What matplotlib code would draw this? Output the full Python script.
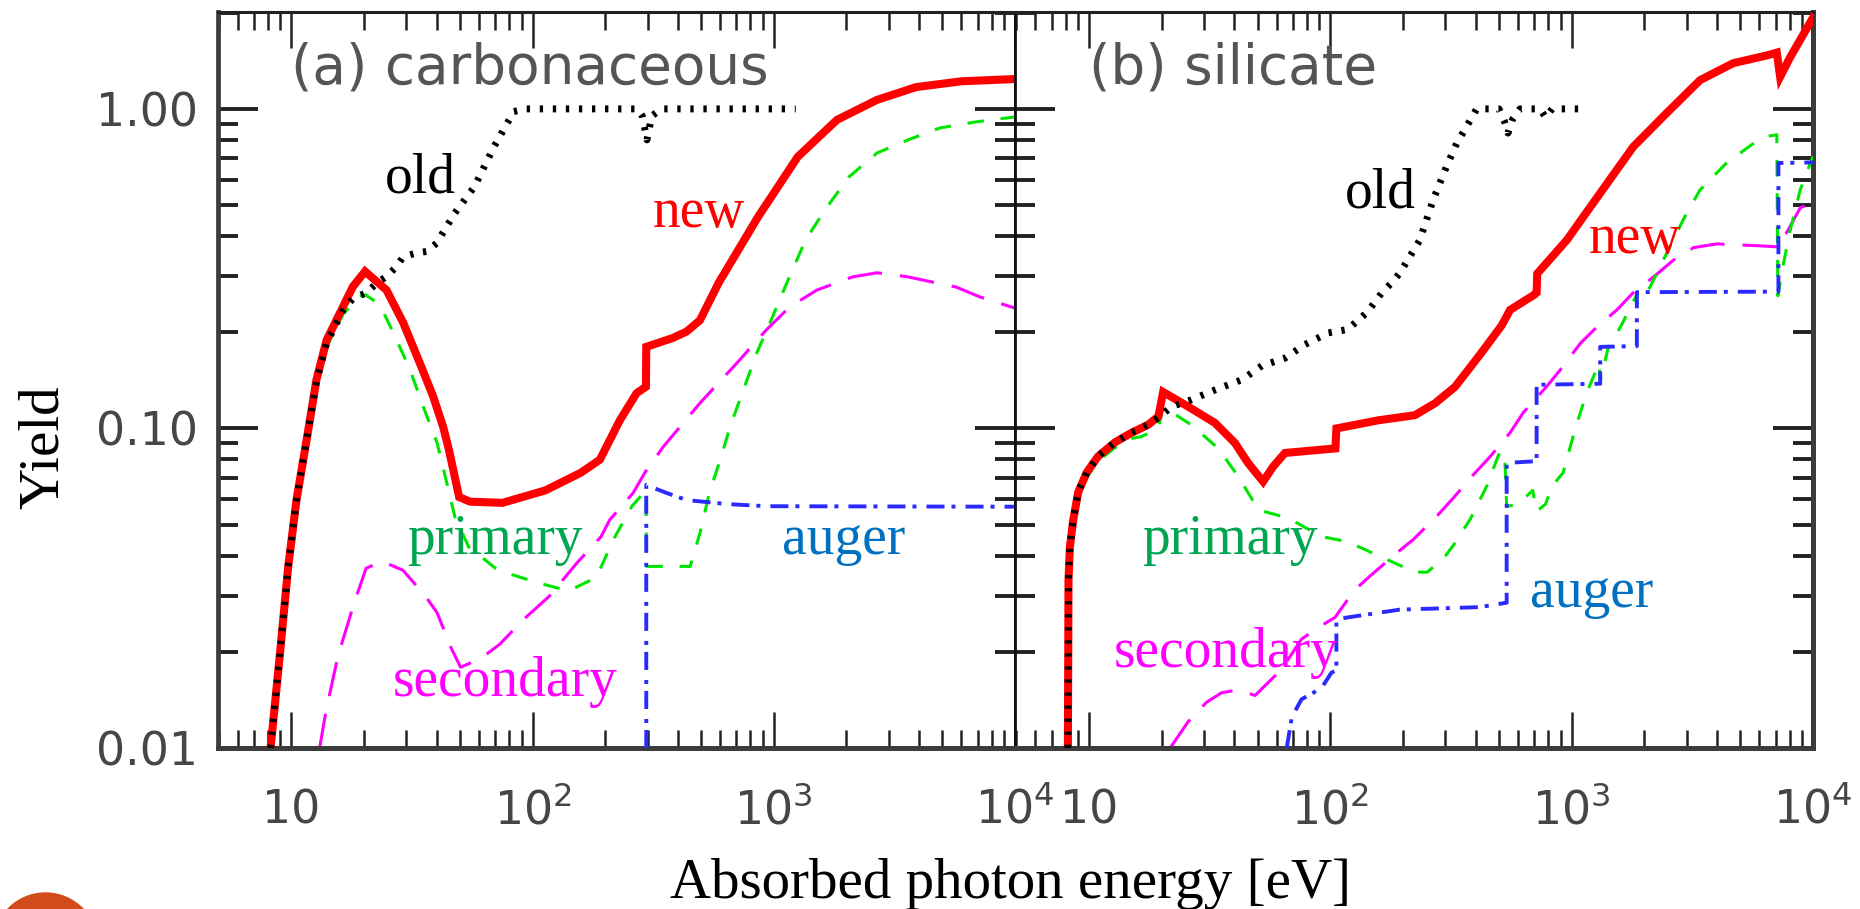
import matplotlib
matplotlib.use("Agg")
import matplotlib.pyplot as plt
from matplotlib.ticker import FixedLocator, NullFormatter, FixedFormatter
from matplotlib.patches import Ellipse

plt.rcParams["lines.scale_dashes"] = False
plt.rcParams["mathtext.default"] = "regular"

# ---------------- (a) carbonaceous grains ----------------
C_NEW_E = [8.2, 9.0, 9.7, 10.5, 11.7, 12.7, 14.0, 16.4, 18.0, 20.2, 24.8, 29.1, 34.1,
           38.7, 42.6, 45.0, 49.6, 55.0, 75.0, 113, 158, 190, 230, 270, 295, 296, 316,
           382, 435, 494, 590, 860, 1257, 1828, 2678, 3890, 6000, 10000]
C_NEW_Y = [0.010, 0.0203, 0.0369, 0.0597, 0.097, 0.142, 0.189, 0.241, 0.278, 0.31, 0.271,
           0.214, 0.160, 0.126, 0.101, 0.0857, 0.061, 0.059, 0.0585, 0.064, 0.0726, 0.0798,
           0.106, 0.129, 0.135, 0.180, 0.183, 0.192, 0.201, 0.218, 0.285, 0.459, 0.708,
           0.924, 1.067, 1.17, 1.22, 1.24]

C_OLD_E = [8.2, 9.0, 9.7, 10.5, 11.7, 12.7, 14.0, 16.4, 18.0, 20.5, 22.6, 24.8, 27.3,
           29.1, 33.0, 36.4, 40.0, 47.5, 57.4, 69.3, 83.6, 94, 272, 285, 298, 312, 342, 1233]
C_OLD_Y = [0.010, 0.0203, 0.0369, 0.0597, 0.097, 0.140, 0.185, 0.235, 0.255, 0.266, 0.285,
           0.299, 0.321, 0.345, 0.354, 0.358, 0.38, 0.471, 0.571, 0.763, 0.981, 1.0, 1.0,
           0.95, 0.80, 0.95, 1.0, 1.0]

C_PRI_E = [8.2, 9.0, 9.7, 10.5, 11.7, 12.7, 14.0, 16.4, 19.2, 20.3, 22.2, 24.0, 26.5, 31.0,
           35.2, 40.2, 44.1, 47.6, 54.3, 71.9, 105, 141, 184, 216, 258, 295, 297, 340, 450,
           494, 544, 600, 658, 748, 849, 964, 1145, 1355, 1630, 2051, 2680, 3606, 4890,
           6855, 10000]
C_PRI_Y = [0.010, 0.020, 0.036, 0.058, 0.094, 0.135, 0.180, 0.228, 0.259, 0.262, 0.250,
           0.232, 0.199, 0.153, 0.117, 0.090, 0.0675, 0.053, 0.0426, 0.036, 0.0329, 0.031,
           0.0342, 0.0448, 0.0571, 0.064, 0.037, 0.037, 0.037, 0.047, 0.064, 0.0798, 0.101,
           0.132, 0.172, 0.214, 0.291, 0.389, 0.483, 0.613, 0.728, 0.80, 0.872, 0.91, 0.944]

C_SEC_E = [13.1, 13.9, 15.6, 18.2, 20.4, 23.7, 29.0, 35.8, 40.2, 45.9, 50.3, 60.6, 73, 92,
           117, 153, 192, 209, 261, 292, 348, 494, 702, 929, 1163, 1508, 2120, 2680, 3606,
           5700, 7150, 10000]
C_SEC_Y = [0.010, 0.013, 0.0194, 0.0284, 0.0365, 0.0384, 0.036, 0.030, 0.0265, 0.0206,
           0.0179, 0.019, 0.0211, 0.0253, 0.0298, 0.038, 0.0458, 0.0518, 0.0628, 0.0727,
           0.0876, 0.120, 0.160, 0.203, 0.24, 0.271, 0.298, 0.307, 0.298, 0.277, 0.258, 0.238]

C_AUG_E = [296, 296, 320, 360, 435, 638, 935, 10000]
C_AUG_Y = [0.010, 0.0666, 0.065, 0.0628, 0.0597, 0.058, 0.0571, 0.0569]

# ---------------- (b) silicate grains ----------------
S_NEW_E = [8.18, 8.21, 8.23, 8.34, 8.61, 9.03, 9.78, 10.9, 12.8, 15.0, 17.6, 19.4, 20.3,
           25.8, 33.3, 40.3, 45.6, 52.7, 58, 64.9, 105, 106, 157.8, 224, 272, 329, 424,
           513, 556, 700, 716, 720, 956, 1313, 1800, 2475, 3404, 4670, 6440, 7080, 7310,
           8040, 10000]
S_NEW_Y = [0.010, 0.020, 0.0336, 0.0426, 0.0517, 0.0632, 0.0727, 0.0817, 0.0904, 0.0969,
           0.1027, 0.109, 0.130, 0.117, 0.104, 0.090, 0.078, 0.0682, 0.076, 0.0838, 0.0866,
           0.100, 0.106, 0.110, 0.120, 0.135, 0.173, 0.21, 0.235, 0.262, 0.266, 0.305,
           0.389, 0.545, 0.761, 0.97, 1.23, 1.39, 1.47, 1.50, 1.26, 1.45, 1.93]

S_OLD_E = [8.18, 8.21, 8.23, 8.34, 8.61, 9.03, 9.78, 10.9, 12.8, 15.0, 17.6, 19.4, 22,
           26.6, 33.3, 43, 52, 64.9, 78.5, 97.8, 118, 143, 163, 179, 194, 235, 267, 303,
           334, 367, 404, 500, 525, 545, 570, 611, 740, 780, 830, 1138]
S_OLD_Y = [0.010, 0.020, 0.0336, 0.0426, 0.0517, 0.0632, 0.0727, 0.0817, 0.0904, 0.0969,
           0.1027, 0.108, 0.117, 0.123, 0.132, 0.142, 0.157, 0.166, 0.183, 0.199, 0.204,
           0.232, 0.265, 0.285, 0.306, 0.389, 0.52, 0.66, 0.78, 0.88, 1.0, 1.0, 0.92, 0.84,
           0.93, 1.0, 1.0, 0.94, 1.0, 1.0]

S_PRI_E = [8.18, 8.21, 8.23, 8.34, 8.61, 9.03, 9.78, 10.9, 12.8, 15.0, 16.5, 19.4, 20.3,
           26.6, 34.3, 41.6, 50.4, 67, 92, 118, 163, 224, 252, 293, 323, 380, 445, 505, 528,
           538, 600, 690, 716, 780, 830, 922, 1032, 1153, 1300, 1313, 1420, 1600, 1850,
           1863, 2113, 2400, 2900, 3404, 4381, 5810, 6440, 7080, 7150, 7500, 8000, 8850,
           10000]
S_PRI_Y = [0.010, 0.019, 0.032, 0.041, 0.050, 0.061, 0.070, 0.079, 0.087, 0.093, 0.0943,
           0.100, 0.117, 0.1025, 0.0867, 0.0707, 0.0556, 0.0524, 0.0459, 0.0442, 0.0396,
           0.0355, 0.0355, 0.039, 0.043, 0.052, 0.066, 0.085, 0.083, 0.057, 0.058, 0.064,
           0.055, 0.058, 0.066, 0.0727, 0.099, 0.129, 0.16, 0.14, 0.18, 0.209, 0.26, 0.245,
           0.277, 0.337, 0.45, 0.558, 0.677, 0.79, 0.82, 0.83, 0.26, 0.32, 0.41, 0.558, 0.71]

S_SEC_E = [21.7, 25.8, 30.7, 35.5, 41.6, 48.8, 62.7, 76, 88.8, 104.5, 126, 146, 188.6, 220,
           276, 323, 390, 460, 556, 630, 786, 894, 1089, 1274, 1540, 1800, 2185, 2650,
           3200, 3990, 4990, 5940, 7150, 7250, 7780, 8850, 10000]
S_SEC_Y = [0.010, 0.0121, 0.0139, 0.0149, 0.0152, 0.0146, 0.0176, 0.0219, 0.0238, 0.0256,
           0.0312, 0.0345, 0.0408, 0.0448, 0.0531, 0.0605, 0.0714, 0.0817, 0.097, 0.112,
           0.135, 0.152, 0.185, 0.208, 0.235, 0.266, 0.298, 0.337, 0.368, 0.378, 0.375,
           0.373, 0.37, 0.40, 0.41, 0.49, 0.51]

S_AUG_E = [66, 69.3, 76, 92, 101, 106, 106, 117, 194, 418, 538, 538, 716, 716, 1313, 1313,
           1863, 1863, 7190, 7190, 10000]
S_AUG_Y = [0.010, 0.0125, 0.0142, 0.0154, 0.0172, 0.0175, 0.0252, 0.0256, 0.0271, 0.0276,
           0.0285, 0.078, 0.079, 0.137, 0.138, 0.180, 0.181, 0.267, 0.268, 0.677, 0.68]

X_MAJOR = [10, 100, 1000, 10000]
X_LABELS = ["10", "$10^{2}$", "$10^{3}$", "$10^{4}$"]
Y_MAJOR = [0.01, 0.1, 1.0]
Y_LABELS = ["0.01", "0.10", "1.00"]

PANELS = [
    dict(title="(a) carbonaceous",
         new=(C_NEW_E, C_NEW_Y), old=(C_OLD_E, C_OLD_Y), pri=(C_PRI_E, C_PRI_Y),
         sec=(C_SEC_E, C_SEC_Y), aug=(C_AUG_E, C_AUG_Y),
         labels=[("old", 24.4, 0.546, "black"), ("new", 316, 0.427, "#ff0000"),
                 ("primary", 30.2, 0.0405, "#00a651"), ("secondary", 26.4, 0.01455, "#ff00ff"),
                 ("auger", 1081, 0.0405, "#0070c0")]),
    dict(title="(b) silicate",
         new=(S_NEW_E, S_NEW_Y), old=(S_OLD_E, S_OLD_Y), pri=(S_PRI_E, S_PRI_Y),
         sec=(S_SEC_E, S_SEC_Y), aug=(S_AUG_E, S_AUG_Y),
         labels=[("old", 115, 0.49, "black"), ("new", 1180, 0.354, "#ff0000"),
                 ("primary", 16.6, 0.0405, "#00a651"), ("secondary", 12.7, 0.01793, "#ff00ff"),
                 ("auger", 672, 0.0276, "#0070c0")]),
]

W, H = 1860, 909
fig = plt.figure(figsize=(W / 100, H / 100), dpi=100)
bottom = 1 - 748 / H
height = (748 - 12) / H
ax_a = fig.add_axes([217.5 / W, bottom, (1015 - 217.5) / W, height])
ax_b = fig.add_axes([1015 / W, bottom, (1813 - 1015) / W, height])

x_minor = [m * d for d in (1, 10, 100, 1000) for m in range(2, 10) if m * d > 4.9]
y_minor = [m * d for d in (0.01, 0.1) for m in range(2, 10)] + [2.0]

SERIF = "Liberation Serif"
AXIS_GRAY = "#3c3c3c"

for i, (ax, p) in enumerate(zip([ax_a, ax_b], PANELS)):
    ax.set_xscale("log")
    ax.set_yscale("log")
    ax.set_xlim(4.94, 1e4)
    ax.set_ylim(0.01, 2.01)

    ax.plot(*p["sec"], color="#ff00ff", lw=2.2, dashes=(25, 13), zorder=2)
    ax.plot(*p["pri"], color="#00e600", lw=2.2, dashes=(12, 12), zorder=3)
    ax.plot(*p["aug"], color="#2a2aff", lw=2.8, dashes=(13, 5, 2.9, 7.2), zorder=4)
    ax.plot(*p["new"], color="#ff0000", lw=5.8, zorder=5, solid_joinstyle="miter")
    ax.plot(*p["old"], color="black", lw=5.0, dashes=(2.4, 7.0), zorder=6,
            dash_capstyle="butt")

    ax.text(10.0, 1.2, p["title"], fontsize=39.5, color="#555555",
            family="DejaVu Sans", ha="left", va="baseline")
    for txt, xe, ye, col in p["labels"]:
        ax.text(xe, ye, txt, fontsize=40, color=col, family=SERIF,
                ha="left", va="baseline", zorder=7)

    ax.xaxis.set_major_locator(FixedLocator(X_MAJOR))
    ax.xaxis.set_minor_locator(FixedLocator(x_minor))
    ax.xaxis.set_major_formatter(FixedFormatter(X_LABELS))
    ax.xaxis.set_minor_formatter(NullFormatter())
    ax.yaxis.set_major_locator(FixedLocator(Y_MAJOR))
    ax.yaxis.set_minor_locator(FixedLocator(y_minor))
    ax.yaxis.set_minor_formatter(NullFormatter())
    if i == 0:
        ax.yaxis.set_major_formatter(FixedFormatter(Y_LABELS))
    else:
        ax.yaxis.set_major_formatter(NullFormatter())

    ax.tick_params(which="both", direction="in", top=True, right=True,
                   colors="#222222", labelcolor="#464646")
    ax.tick_params(axis="x", which="major", length=26, width=1.8, labelsize=33, pad=54)
    ax.tick_params(axis="x", which="minor", length=13, width=1.8)
    ax.tick_params(axis="y", which="major", length=29, width=2.8, labelsize=33, pad=14)
    ax.tick_params(axis="y", which="minor", length=14.5, width=2.8)
    for lab in ax.get_xticklabels():
        lab.set_verticalalignment("baseline")

    ax.spines["bottom"].set_linewidth(3.6)
    ax.spines["bottom"].set_color(AXIS_GRAY)
    ax.spines["top"].set_linewidth(2.2)
    ax.spines["top"].set_color("#222222")
    if i == 0:
        ax.spines["left"].set_linewidth(3.4)
        ax.spines["left"].set_color(AXIS_GRAY)
        ax.spines["right"].set_linewidth(2.0)
        ax.spines["right"].set_color("#111111")
    else:
        ax.spines["left"].set_linewidth(2.0)
        ax.spines["left"].set_color("#111111")
        ax.spines["right"].set_linewidth(3.6)
        ax.spines["right"].set_color(AXIS_GRAY)

fig.text(44 / W, 1 - 447 / H, "Yield", rotation=90, fontsize=41, family=SERIF,
         ha="center", va="center", color="black")
fig.text(1010 / W, 1 - 898 / H, "Absorbed photon energy [eV]", fontsize=41,
         family=SERIF, ha="center", va="baseline", color="black")

# slide decoration in the lower left corner
fig.add_artist(Ellipse((45.5 / W, 1 - 945 / H), 2 * 52 / W, 2 * 52 / H,
                       transform=fig.transFigure, color="#d14b1c", clip_on=False))

fig.savefig("out.png", dpi=100)
